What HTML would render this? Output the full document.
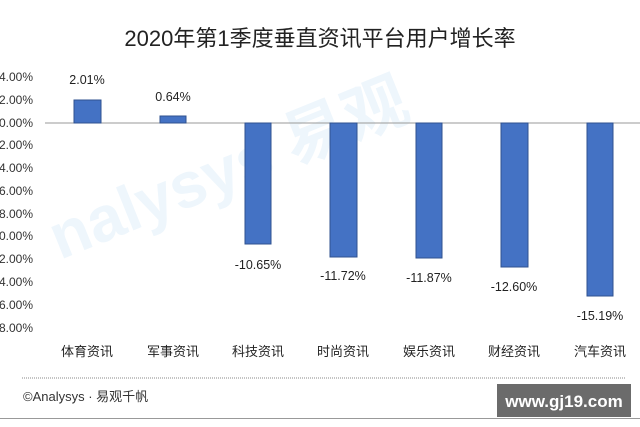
<!DOCTYPE html><html><head><meta charset="utf-8"><style>
body{margin:0;width:640px;height:427px;background:#fff;overflow:hidden;font-family:"Liberation Sans","Noto Sans CJK SC",sans-serif}
</style></head><body>
<svg width="640" height="427" xmlns="http://www.w3.org/2000/svg" style="position:absolute;left:0;top:0">
<g font-family="Liberation Sans, Noto Sans CJK SC, sans-serif">
<text x="320" y="46" font-size="22" text-anchor="middle" fill="#222">2020年第1季度垂直资讯平台用户增长率</text>
<text x="60" y="260" font-size="64" fill="#eef6fc" transform="rotate(-22 60 260)" font-weight="bold">nalysys 易观</text>
<g font-size="12" fill="#333" text-anchor="end">
<text x="33" y="81">4.00%</text><text x="33" y="104">2.00%</text><text x="33" y="127">0.00%</text>
<text x="33" y="149">2.00%</text><text x="33" y="172">4.00%</text><text x="33" y="195">6.00%</text>
<text x="33" y="218">8.00%</text><text x="33" y="240">0.00%</text><text x="33" y="263">2.00%</text>
<text x="33" y="286">4.00%</text><text x="33" y="309">6.00%</text><text x="33" y="332">8.00%</text>
</g>
<line x1="45" y1="123" x2="640" y2="123" stroke="#999" stroke-width="1"/>
<g fill="#4472c4" stroke="#2f528f" stroke-width="1">
<rect x="74" y="100" width="27" height="23"/>
<rect x="160" y="116" width="26" height="7"/>
<rect x="245" y="123" width="26" height="121"/>
<rect x="330" y="123" width="27" height="134"/>
<rect x="416" y="123" width="26" height="135"/>
<rect x="501" y="123" width="27" height="144"/>
<rect x="587" y="123" width="26" height="173"/>
</g>
<g font-size="12.5" fill="#222" text-anchor="middle">
<text x="87" y="84">2.01%</text><text x="173" y="101">0.64%</text>
<text x="258" y="269">-10.65%</text><text x="343" y="280">-11.72%</text>
<text x="429" y="282">-11.87%</text><text x="514" y="291">-12.60%</text>
<text x="600" y="320">-15.19%</text>
</g>
<g font-size="13" fill="#222" text-anchor="middle">
<text x="87" y="356">体育资讯</text><text x="173" y="356">军事资讯</text><text x="258" y="356">科技资讯</text>
<text x="343" y="356">时尚资讯</text><text x="429" y="356">娱乐资讯</text><text x="514" y="356">财经资讯</text>
<text x="600" y="356">汽车资讯</text>
</g>
<line x1="22" y1="378" x2="625" y2="378" stroke="#888" stroke-dasharray="1,1"/>
<text x="23" y="401" font-size="13" fill="#333">©Analysys · 易观千帆</text>
<rect x="497" y="384" width="134" height="33" fill="#6b6b6b"/>
<text x="564" y="407" font-size="17" font-weight="bold" fill="#fff" text-anchor="middle">www.gj19.com</text>
<line x1="0" y1="418.5" x2="640" y2="418.5" stroke="#999"/>
</g></svg>
</body></html>
